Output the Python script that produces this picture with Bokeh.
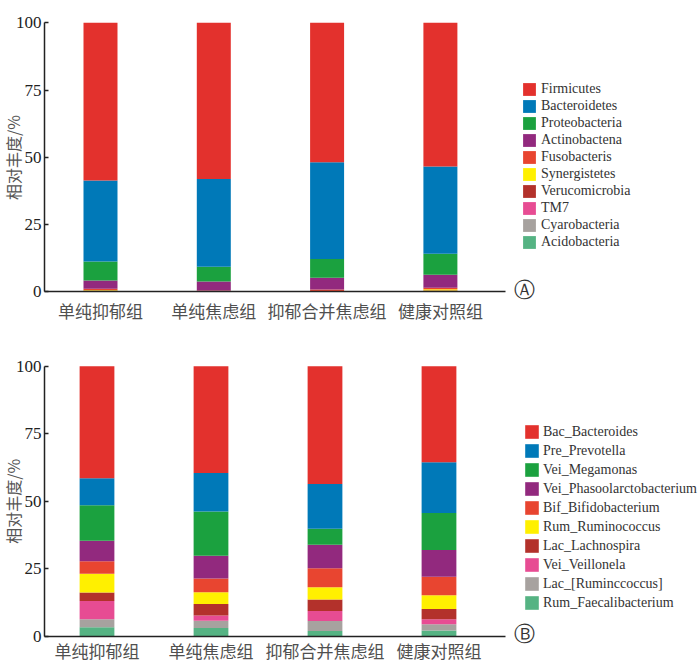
from bokeh.plotting import figure
from bokeh.models import (Range1d, FixedTicker, Legend, LegendItem, Label)
from bokeh.layouts import column
from bokeh.embed import file_html
from bokeh.resources import INLINE

groups = ["单纯抑郁组", "单纯焦虑组", "抑郁合并焦虑组", "健康对照组"]
y_ticks = [0, 25, 50, 75, 100]

# Panel A: phylum level (stack order bottom -> top)
phyla = ["Acidobacteria", "Cyarobacteria", "TM7", "Verucomicrobia", "Synergistetes",
         "Fusobacteris", "Actinobactena", "Proteobacteria", "Bacteroidetes", "Firmicutes"]
acidobacteria = [0.05, 0.02, 0.02, 0.05]
cyarobacteria = [0.05, 0.03, 0.03, 0.05]
tm7 = [0.1, 0.2, 0.05, 0.2]
verucomicrobia = [0.4, 0.1, 0.2, 0.3]
synergistetes = [0.1, 0.05, 0.1, 0.4]
fusobacteris = [0.5, 0.2, 0.5, 0.6]
actinobactena = [3.1, 3.3, 4.4, 4.8]
proteobacteria = [7.0, 5.5, 7.0, 7.8]
bacteroidetes = [30.1, 32.6, 35.9, 32.4]
firmicutes = [58.6, 58.0, 51.8, 53.4]
phyla_values = [acidobacteria, cyarobacteria, tm7, verucomicrobia, synergistetes,
                fusobacteris, actinobactena, proteobacteria, bacteroidetes, firmicutes]

# Panel B: genus level (stack order bottom -> top)
genera = ["Rum_Faecalibacterium", "Lac_[Ruminccoccus]", "Vei_Veillonela", "Lac_Lachnospira",
          "Rum_Ruminococcus", "Bif_Bifidobacterium", "Vei_Phasoolarctobacterium",
          "Vei_Megamonas", "Pre_Prevotella", "Bac_Bacteroides"]
faecalibacterium = [3.3, 3.0, 1.9, 2.1]
ruminccoccus_lac = [3.0, 2.7, 3.7, 2.3]
veillonela = [6.7, 2.0, 3.7, 1.9]
lachnospira = [3.2, 4.2, 4.3, 3.8]
ruminococcus = [6.9, 4.4, 4.5, 5.1]
bifidobacterium = [4.7, 5.1, 7.1, 6.8]
phasoolarctobacterium = [7.6, 8.4, 8.7, 9.9]
megamonas = [13.1, 16.4, 5.9, 13.7]
prevotella = [10.0, 14.2, 16.6, 18.8]
bacteroides = [41.5, 39.6, 43.6, 35.6]
genera_values = [faecalibacterium, ruminccoccus_lac, veillonela, lachnospira, ruminococcus,
                 bifidobacterium, phasoolarctobacterium, megamonas, prevotella, bacteroides]

colors = ["#55B383", "#A7A29F", "#E74C93", "#B3312B", "#FFF000",
          "#E84530", "#92297E", "#1BA13F", "#0079B8", "#E3312D"]

SERIF = "Liberation Serif"
CJK = "Noto Sans CJK SC"


def make_panel(names, values, letter, xr, yr, axis_x, bar_w, label_standoff,
               legend_loc, glyph_h, glyph_w, spacing, lab_standoff):
    p = figure(width=700, height=336, output_backend="svg", toolbar_location=None,
               x_range=Range1d(*xr), y_range=Range1d(*yr),
               min_border_left=0, min_border_right=0, min_border_top=0, min_border_bottom=0)
    p.outline_line_color = None
    p.grid.visible = False
    p.background_fill_color = "white"
    p.border_fill_color = "white"

    xs = list(range(len(groups)))
    data = {"x": xs}
    for n, v in zip(names, values):
        data[n] = v
    rs = p.vbar_stack(names, x="x", width=bar_w, color=colors, line_color=None, source=data)

    items = [LegendItem(label=n, renderers=[r]) for n, r in zip(names, rs)][::-1]
    leg = Legend(items=items, location=legend_loc, glyph_height=glyph_h, glyph_width=glyph_w,
                 spacing=spacing, padding=0, margin=0, border_line_color=None,
                 background_fill_alpha=0, label_standoff=lab_standoff,
                 label_text_font=SERIF, label_text_font_size="14px",
                 label_text_color="#333333", label_height=glyph_h)
    p.add_layout(leg, "center")

    # axes drawn at fixed data locations, limited by bounds
    p.yaxis.fixed_location = axis_x[0]
    p.yaxis.bounds = (0, 100)
    p.yaxis.ticker = FixedTicker(ticks=y_ticks)
    p.yaxis.major_tick_in = 4
    p.yaxis.major_tick_out = 0
    p.yaxis.minor_tick_line_color = None
    p.yaxis.axis_line_color = "#222222"
    p.yaxis.axis_line_width = 1.5
    p.yaxis.major_tick_line_color = "#222222"
    p.yaxis.major_tick_line_width = 1.5
    p.yaxis.major_label_text_font = SERIF
    p.yaxis.major_label_text_font_size = "17px"
    p.yaxis.major_label_text_color = "#222222"
    p.yaxis.major_label_standoff = 3

    p.xaxis.fixed_location = 0
    p.xaxis.bounds = axis_x
    p.xaxis.ticker = FixedTicker(ticks=xs)
    p.xaxis.major_label_overrides = {i: g for i, g in zip(xs, groups)}
    p.xaxis.major_tick_in = 0
    p.xaxis.major_tick_out = 0
    p.xaxis.minor_tick_line_color = None
    p.xaxis.axis_line_color = "#222222"
    p.xaxis.axis_line_width = 1.5
    p.xaxis.major_label_text_font = CJK
    p.xaxis.major_label_text_font_size = "17px"
    p.xaxis.major_label_text_color = "#505050"
    p.xaxis.major_label_standoff = label_standoff

    # y-axis title
    p.add_layout(Label(x=axis_x[0], y=50, x_offset=-32, text="相对丰度/%", angle=1.5707963,
                       text_align="center", text_baseline="middle", text_font=CJK,
                       text_font_size="16px", text_color="#555555"))
    # panel letter
    p.add_layout(Label(x=axis_x[1], y=0, x_offset=19, y_offset=2, text=letter,
                       text_align="center", text_baseline="middle", text_font="DejaVu Sans",
                       text_font_size="21px", text_color="#333333"))
    return p


pA = make_panel(phyla, phyla_values, "Ⓐ", (-0.8826, 5.2957), (-16.53, 108.28),
                (-0.494, 3.575), 0.30, 6, (521, 86), 16, 16, 1, 4)
pB = make_panel(genera, genera_values, "Ⓑ", (-0.8465, 5.2939), (-13.44, 111.0),
                (-0.4605, 3.583), 0.305, 2, (523, 61), 17, 17, 2, 3)

layout = column(pA, pB, spacing=0)
open("out.html", "w").write(file_html(layout, INLINE))
